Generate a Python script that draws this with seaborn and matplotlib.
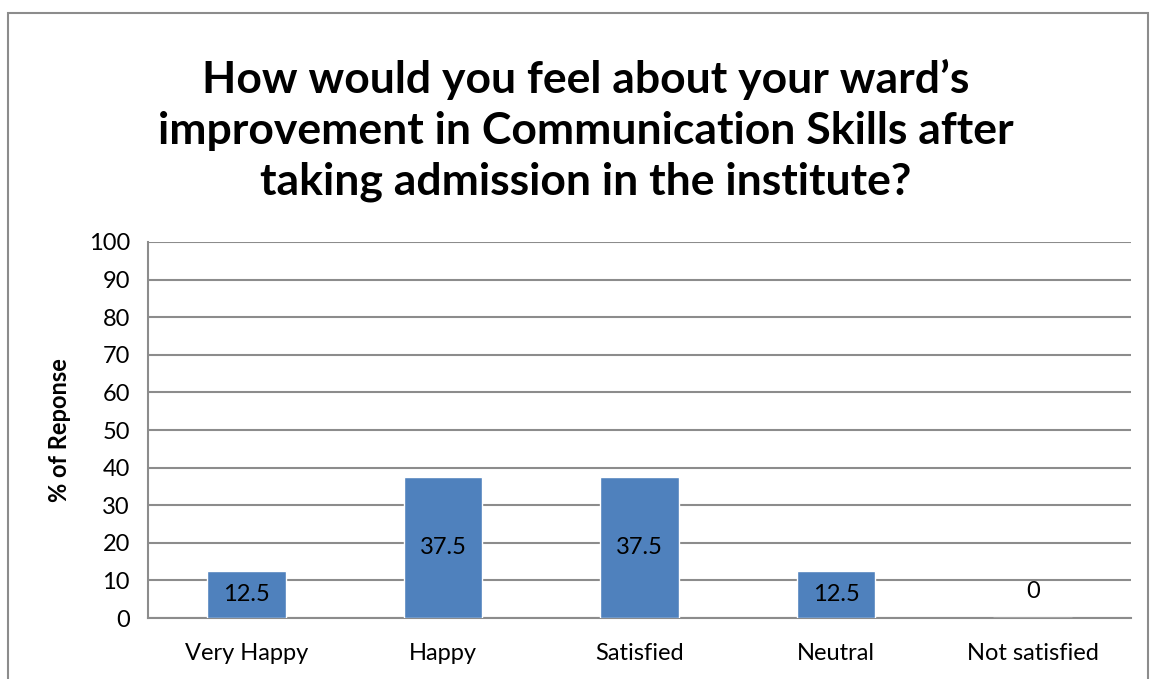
import matplotlib
matplotlib.use("Agg")
import matplotlib.pyplot as plt
import matplotlib.patches as patches
import seaborn as sns
import pandas as pd

categories = ["Very Happy", "Happy", "Satisfied", "Neutral", "Not satisfied"]
values = [12.5, 37.5, 37.5, 12.5, 0]
labels = ["12.5", "37.5", "37.5", "12.5", "0"]

df = pd.DataFrame({"cat": categories, "val": values})

sns.set_style("white")
plt.rcParams["font.family"] = ["Lato", "DejaVu Sans"]
plt.rcParams["text.color"] = "black"
plt.rcParams["axes.labelcolor"] = "black"
plt.rcParams["xtick.labelcolor"] = "black"
plt.rcParams["ytick.labelcolor"] = "black"

fig = plt.figure(figsize=(11.5, 6.79), dpi=100)
ax = fig.add_axes([0.1287, 0.0898, 0.8548, 0.5538])

sns.barplot(data=df, x="cat", y="val", color="#4F81BD", saturation=1,
            width=0.4, ax=ax, zorder=3)

for i, v in enumerate(values):
    ax.text(i, v / 2 if v else 7, labels[i], ha="center", va="center",
            fontsize=17, color="black", zorder=4)

grid_c = "#8C8C8C"
ax.set_ylim(0, 100)
ax.set_xlim(-0.5, 4.5)
ax.set_yticks(range(0, 101, 10))
ax.yaxis.grid(True, color=grid_c, linewidth=1.5, zorder=0)
ax.tick_params(axis="y", length=8, width=1.5, color=grid_c, labelsize=17, pad=5)
ax.tick_params(axis="x", which="major", length=0, labelsize=17, pad=18)
ax.set_xticks([i - 0.5 for i in range(6)], minor=True)
ax.tick_params(axis="x", which="minor", length=8, width=1.5, color=grid_c)

for s in ["top", "right"]:
    ax.spines[s].set_visible(False)
for s in ["left", "bottom"]:
    ax.spines[s].set_color(grid_c)
    ax.spines[s].set_linewidth(1.5)

ax.set_xlabel("")
ax.set_ylabel("% of Reponse", fontsize=17, fontweight="bold", labelpad=13)

fig.text(0.509, 0.808,
         "How would you feel about your ward\u2019s\nimprovement in Communication Skills after\ntaking admission in the institute?",
         ha="center", va="center", fontsize=32, fontweight="bold",
         linespacing=1.32)

border = patches.Rectangle((8 / 1150, -0.01), 1140 / 1150, 1 - 13 / 679 + 0.01,
                           transform=fig.transFigure, fill=False,
                           edgecolor="#8C8C8C", linewidth=1.5)
fig.patches.append(border)

fig.savefig("out.png", dpi=100)
